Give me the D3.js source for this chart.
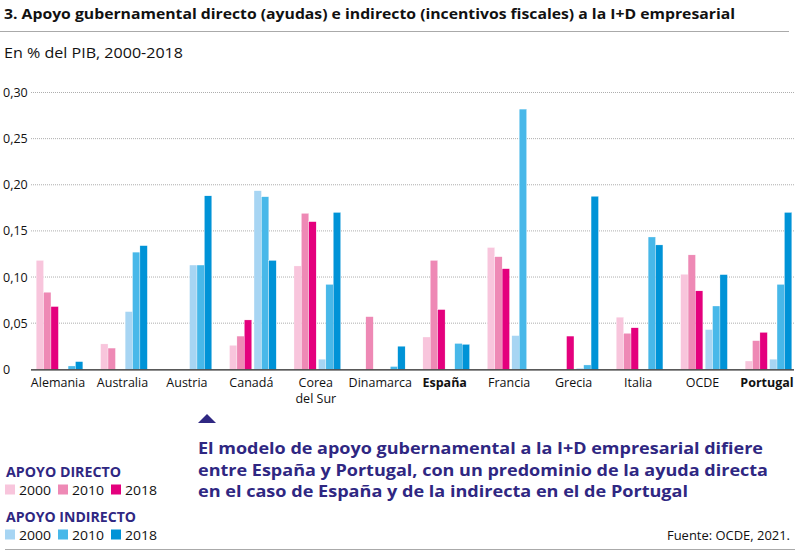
<!DOCTYPE html>
<html>
<head>
<meta charset="utf-8">
<script src="https://cdn.jsdelivr.net/npm/d3@7"></script>
<style>
  body { margin: 0; background: #fff; }
  svg { display: block; font-family: "Open Sans", "Noto Sans", sans-serif; }
</style>
</head>
<body>
<svg id="chart" width="800" height="554"></svg>
<script>
// data (% del PIB)
var countries = ["Alemania", "Australia", "Austria", "Canadá", "Corea del Sur", "Dinamarca",
                 "España", "Francia", "Grecia", "Italia", "OCDE", "Portugal"];
var boldCountries = ["España", "Portugal"];
var direct2000   = [0.118, 0.0275, 0,     0.026, 0.112, 0,     0.035, 0.132, 0,     0.0565, 0.103, 0.009];
var direct2010   = [0.0835, 0.023, 0,     0.036, 0.169, 0.057, 0.118, 0.122, 0,     0.039, 0.124, 0.031];
var direct2018   = [0.068, 0,      0,     0.0535, 0.160, 0,    0.0647, 0.109, 0.036, 0.045, 0.085, 0.040];
var indirect2000 = [0,     0.0625, 0.113, 0.1935, 0.011, 0,    0,     0.0365, 0.0012, 0,   0.043, 0.011];
var indirect2010 = [0.0036, 0.127, 0.113, 0.187, 0.092, 0.003, 0.028, 0.282, 0.0047, 0.1434, 0.0686, 0.092];
var indirect2018 = [0.0083, 0.134, 0.188, 0.118, 0.170, 0.025, 0.027, 0,     0.1875, 0.1348, 0.1026, 0.170];
var yTicks = [0, 0.05, 0.10, 0.15, 0.20, 0.25, 0.30];
var years = ["2000", "2010", "2018"];

var series = [
  { key: "d2000", values: direct2000,   color: "#f8c5dc" },
  { key: "d2010", values: direct2010,   color: "#ee89b5" },
  { key: "d2018", values: direct2018,   color: "#e4007d" },
  { key: "i2000", values: indirect2000, color: "#a7d5f3" },
  { key: "i2010", values: indirect2010, color: "#48b8e9" },
  { key: "i2018", values: indirect2018, color: "#0093d7" }
];

var PURPLE = "#2f2782";
var svg = d3.select("#chart");

// text stretched to the width it has in the reference (the original face is wider)
var label = function(parent, x, y, size, weight, color, txt, width) {
  var t = parent.append("text")
    .attr("x", x).attr("y", y)
    .style("font-size", size + "px").style("font-weight", weight)
    .attr("fill", color).text(txt);
  if (width) t.attr("textLength", width).attr("lengthAdjust", "spacingAndGlyphs");
  return t;
};

// title block
label(svg, 4, 19, 14.5, "bold", "#111",
  "3. Apoyo gubernamental directo (ayudas) e indirecto (incentivos fiscales) a la I+D empresarial", 731);
svg.append("line")
  .attr("x1", 0).attr("x2", 789).attr("y1", 31.5).attr("y2", 31.5)
  .attr("stroke", "#aaa").attr("stroke-width", 1);
label(svg, 4, 58, 15, "normal", "#111", "En % del PIB, 2000-2018", 179);

// scales
var y = d3.scaleLinear().domain([0, 0.30]).range([369.3, 92.5]);
var x = d3.scaleBand().domain(countries).range([27.3, 800.7]).padding(0);
var barW = 7.4, gap = 2.3;
var groupW = barW * 6 + gap;
var offset = function(k) { return k * barW + (k > 2 ? gap : 0); };

// gridlines + tick labels
var grid = svg.append("g");
grid.selectAll("line").data(yTicks.filter(function(d) { return d > 0; }))
  .enter().append("line")
  .attr("x1", 31).attr("x2", 794)
  .attr("y1", function(d) { return y(d); }).attr("y2", function(d) { return y(d); })
  .attr("stroke", "#999").attr("stroke-width", 0.8).attr("stroke-dasharray", "1,1");
var fmt = d3.format(".2f");
grid.selectAll("text").data(yTicks)
  .enter().append("text")
  .attr("x", 3).attr("y", function(d) { return y(d) + 4.5; })
  .style("font-size", "12.5px").attr("fill", "#111")
  .text(function(d) { return d === 0 ? "0" : fmt(d).replace(".", ","); });

// bars
var bars = svg.append("g");
series.forEach(function(s, k) {
  bars.selectAll("rect." + s.key)
    .data(s.values.map(function(v, i) { return { c: countries[i], v: v }; }).filter(function(d) { return d.v > 0; }))
    .enter().append("rect")
    .attr("class", s.key)
    .attr("x", function(d) { return x(d.c) + x.bandwidth() / 2 - groupW / 2 + offset(k); })
    .attr("width", barW)
    .attr("y", function(d) { return y(d.v); })
    .attr("height", function(d) { return y(0) - y(d.v); })
    .attr("fill", s.color)
    .attr("stroke", "#fff").attr("stroke-width", 0.3);
});

// baseline
svg.append("line")
  .attr("x1", 31).attr("x2", 794).attr("y1", y(0) + 0.5).attr("y2", y(0) + 0.5)
  .attr("stroke", "#222").attr("stroke-width", 1.2);

// category labels (Corea del Sur on two lines)
var xl = svg.append("g");
countries.forEach(function(c) {
  var cx = x(c) + x.bandwidth() / 2 - 1.5;
  var lines = c === "Corea del Sur" ? ["Corea", "del Sur"] : [c];
  lines.forEach(function(l, j) {
    xl.append("text")
      .attr("x", cx).attr("y", 387 + j * 15.5)
      .attr("text-anchor", "middle")
      .style("font-size", "12.5px").attr("fill", "#111")
      .style("font-weight", boldCountries.indexOf(c) >= 0 ? "bold" : "normal")
      .text(l);
  });
});

// annotation
svg.append("path")
  .attr("d", "M198,423 L207,414 L216,423 Z")
  .attr("fill", PURPLE);
var note = ["El modelo de apoyo gubernamental a la I+D empresarial difiere",
            "entre España y Portugal, con un predominio de la ayuda directa",
            "en el caso de España y de la indirecta en el de Portugal"];
var noteWidths = [565, 570, 490];
var noteG = svg.append("g");
note.forEach(function(l, i) {
  label(noteG, 198, 454 + i * 21.5, 16.5, "bold", PURPLE, l, noteWidths[i]);
});

// legend
var legendGroups = [
  { title: "APOYO DIRECTO", y: 477, w: 115, colors: series.slice(0, 3) },
  { title: "APOYO INDIRECTO", y: 522, w: 130, colors: series.slice(3) }
];
legendGroups.forEach(function(g) {
  label(svg, 6, g.y, 13.5, "bold", PURPLE, g.title, g.w);
  g.colors.forEach(function(s, k) {
    svg.append("rect")
      .attr("x", 5 + k * 53).attr("y", g.y + 7.5)
      .attr("width", 10).attr("height", 10)
      .attr("fill", s.color);
    label(svg, 19, g.y + 17.5, 13, "normal", "#111", years[k], 32).attr("x", 19 + k * 53);
  });
});

// source + bottom rule
label(svg, 667, 540, 13, "normal", "#111", "Fuente: OCDE, 2021.", 123);
svg.append("line")
  .attr("x1", 5).attr("x2", 795).attr("y1", 549.5).attr("y2", 549.5)
  .attr("stroke", "#aaa").attr("stroke-width", 1);
</script>
</body>
</html>
